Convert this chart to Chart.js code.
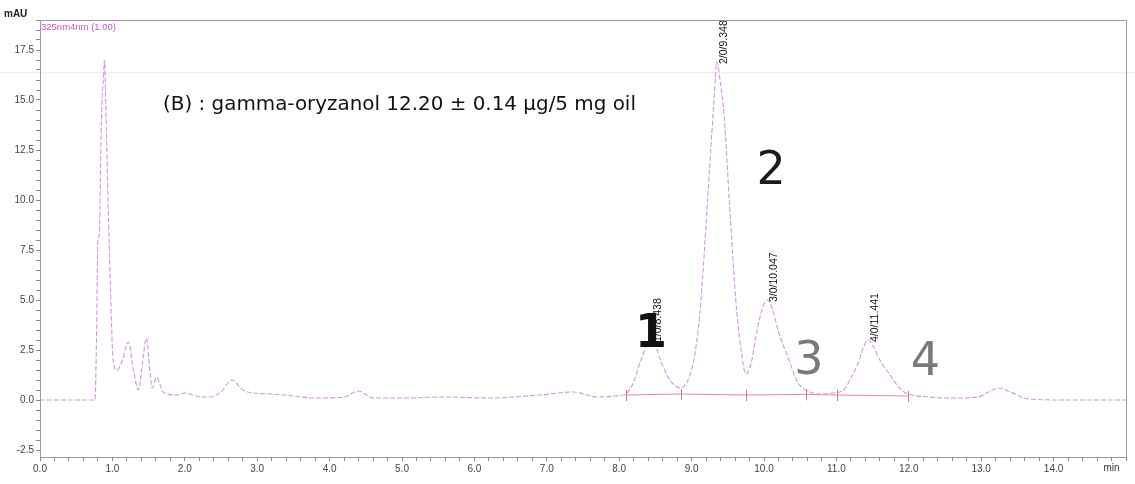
<!DOCTYPE html>
<html>
<head>
<meta charset="utf-8">
<title>gamma-oryzanol HPLC chromatogram (B)</title>
<script src="https://cdn.jsdelivr.net/npm/chart.js@4.4.1/dist/chart.umd.min.js"></script>
<style>
  html, body { margin: 0; padding: 0; background: #ffffff; }
  #wrap { width: 1135px; height: 484px; }
</style>
</head>
<body>
<div id="wrap"><canvas id="chrom" width="1135" height="484"></canvas></div>
<script>
// Detector trace, 325 nm: retention time (min) and absorbance (mAU)
const retentionTime = [
  0, 0.76, 0.78, 0.80, 0.82, 0.84, 0.86, 0.875, 0.89, 0.91,
  0.94, 0.97, 1.01, 1.06, 1.14, 1.22, 1.29, 1.36, 1.42, 1.47,
  1.52, 1.55, 1.61, 1.70, 1.89, 2.0, 2.15, 2.35, 2.5, 2.65,
  2.8, 2.95, 3.2, 3.5, 3.78, 4.2, 4.4, 4.6, 5.0, 5.6,
  6.2, 6.9, 7.37, 7.7, 7.95, 8.09, 8.2, 8.3, 8.38, 8.438,
  8.5, 8.58, 8.68, 8.78, 8.85, 8.95, 9.05, 9.13, 9.22, 9.31,
  9.348, 9.4, 9.45, 9.52, 9.61, 9.68, 9.75, 9.82, 9.9, 9.98,
  10.047, 10.12, 10.2, 10.33, 10.47, 10.58, 10.75, 10.95, 11.1, 11.2,
  11.3, 11.38, 11.441, 11.5, 11.6, 11.76, 11.87, 11.96, 12.27, 12.6,
  12.96, 13.1, 13.24, 13.4, 13.65, 14.2, 15.0
];
const absorbance = [
  0, 0, 3.0, 8.0, 8.3, 12.5, 15.3, 16.0, 17.0, 14.5,
  10.0, 6.0, 2.0, 1.5, 2.0, 2.9, 1.5, 0.5, 2.0, 3.1,
  1.4, 0.6, 1.15, 0.4, 0.25, 0.35, 0.2, 0.15, 0.4, 1.0,
  0.5, 0.35, 0.3, 0.2, 0.1, 0.15, 0.45, 0.1, 0.1, 0.15,
  0.1, 0.25, 0.4, 0.15, 0.2, 0.3, 0.9, 2.0, 2.7, 3.0,
  2.7, 1.9, 1.1, 0.7, 0.6, 1.0, 2.4, 5.0, 10.0, 15.0,
  16.9, 15.8, 14.2, 10.0, 5.0, 2.6, 1.3, 1.8, 3.4, 4.6,
  5.0, 4.5, 3.4, 2.15, 0.85, 0.5, 0.3, 0.35, 0.5, 1.1,
  1.85, 2.7, 3.0, 2.75, 2.0, 1.15, 0.6, 0.35, 0.15, 0.1,
  0.15, 0.4, 0.6, 0.4, 0.05, 0.0, 0.0
];

// Integrated peaks: number / tag / retention time
const peakTimes  = [8.438, 9.348, 10.047, 11.441];
const peakTags   = ['1/0/8.438', '2/0/9.348', '3/0/10.047', '4/0/11.441'];
const peakIds    = ['1', '2', '3', '4'];

// Integration baseline: start/end marks (min) and their level (mAU)
const baselineTimes  = [8.09, 8.85, 9.75, 10.58, 11.01, 11.99];
const baselineLevels = [0.25, 0.3, 0.25, 0.28, 0.25, 0.2];

// Axis ranges, minor tick steps and labelled tick steps
const timeRange = [0, 15];
const mauRange  = [-2.85, 19.0];
const timeMinorStep = 0.2;
const mauMinorStep  = 0.5;
const timeLabelStep = 1.0;
const mauLabelStep  = 2.5;

const titleText  = '(B) : gamma-oryzanol 12.20 \u00b1 0.14 \u00b5g/5 mg oil';
const channelText = '325nm4nm (1.00)';
const unitText = 'mAU';
const timeUnitText = 'min';

const trace = retentionTime.map((t, i) => ({ x: t, y: absorbance[i] }));
const baseline = baselineTimes.map((t, i) => ({ x: t, y: baselineLevels[i] }));

function apexOf(t) {
  const i = retentionTime.indexOf(t);
  return absorbance[i];
}
function onStep(v, step) {
  const r = v / step;
  return Math.abs(r - Math.round(r)) < 1e-6;
}
// tick values on a fixed step inside [lo, hi]
function stepTicks(lo, hi, step) {
  const out = [];
  const first = Math.ceil(lo / step - 1e-9);
  const last = Math.floor(hi / step + 1e-9);
  for (let k = first; k <= last; k++) out.push({ value: +(k * step).toFixed(6) });
  return out;
}

const decorations = {
  id: 'decorations',
  beforeDraw(chart) {
    const c = chart.ctx;
    c.save();
    c.fillStyle = '#ffffff';
    c.fillRect(0, 0, chart.width, chart.height);
    // faint ruling across the sheet
    c.strokeStyle = 'rgba(120,120,120,0.12)';
    c.lineWidth = 1.5;
    c.beginPath();
    c.moveTo(0, 72.5);
    c.lineTo(chart.width, 72.5);
    c.stroke();
    c.restore();
  },
  afterDatasetsDraw(chart) {
    const c = chart.ctx;
    const xs = chart.scales.x, ys = chart.scales.y;

    // integration marks
    c.save();
    c.strokeStyle = 'rgba(220,90,110,0.85)';
    c.lineWidth = 1;
    baselineTimes.forEach((t, i) => {
      const px = Math.round(xs.getPixelForValue(t)) + 0.5;
      const py = ys.getPixelForValue(baselineLevels[i]);
      c.beginPath();
      c.moveTo(px, py - 5);
      c.lineTo(px, py + 6);
      c.stroke();
    });
    c.restore();

    // peak tags, rotated, starting at each apex
    c.save();
    c.fillStyle = '#111111';
    c.font = '10.5px "Liberation Sans", Arial, sans-serif';
    c.textAlign = 'left';
    c.textBaseline = 'middle';
    peakTimes.forEach((t, i) => {
      const px = xs.getPixelForValue(t) + 7;
      const py = ys.getPixelForValue(apexOf(t)) + 2;
      c.save();
      c.translate(px, py);
      c.rotate(-Math.PI / 2);
      c.fillText(peakTags[i], 0, 0);
      c.restore();
    });
    c.restore();

    // large peak numbers
    c.save();
    c.textAlign = 'center';
    c.textBaseline = 'middle';
    const idPos = [[8.44, 3.25], [10.1, 11.4], [10.62, 1.9], [12.23, 1.85]];
    const idColor = ['#111111', '#1a1a1a', '#7a7a7a', '#7a7a7a'];
    const idWeight = ['bold ', '', '', ''];
    peakIds.forEach((s, i) => {
      c.fillStyle = idColor[i];
      c.font = idWeight[i] + '46px "DejaVu Sans", "Liberation Sans", sans-serif';
      c.fillText(s, xs.getPixelForValue(idPos[i][0]), ys.getPixelForValue(idPos[i][1]));
    });
    c.restore();
  },
  afterDraw(chart) {
    const c = chart.ctx;
    const a = chart.chartArea;
    const xs = chart.scales.x;

    // frame of the plot area
    c.save();
    c.strokeStyle = '#9a9aa6';
    c.lineWidth = 1;
    c.strokeRect(Math.round(a.left) + 0.5, Math.round(a.top) + 0.5,
                 Math.round(a.right - a.left), Math.round(a.bottom - a.top));
    c.restore();

    // unit, channel and time-unit texts
    c.save();
    c.fillStyle = '#222222';
    c.font = 'bold 10px "Liberation Sans", Arial, sans-serif';
    c.textAlign = 'left';
    c.textBaseline = 'alphabetic';
    c.fillText(unitText, 4, 17);
    c.fillStyle = '#c455c8';
    c.font = '9.5px "Liberation Sans", Arial, sans-serif';
    c.fillText(channelText, a.left + 1, 30);
    c.fillStyle = '#333333';
    c.font = '10px "Liberation Sans", Arial, sans-serif';
    c.textAlign = 'center';
    c.fillText(timeUnitText, xs.getPixelForValue(14.8), 471);
    c.restore();

    // sample caption
    c.save();
    c.fillStyle = '#111111';
    c.font = '18px "DejaVu Sans", "Open Sans", sans-serif';
    c.textAlign = 'left';
    c.textBaseline = 'middle';
    const w = c.measureText(titleText).width;
    const size = 18 * 473 / w;
    c.font = size.toFixed(2) + 'px "DejaVu Sans", "Open Sans", sans-serif';
    c.fillText(titleText, 163, 105);
    c.restore();
  }
};

new Chart(document.getElementById('chrom'), {
  type: 'line',
  data: {
    datasets: [
      {
        label: 'trace',
        data: trace,
        borderColor: 'rgba(206,140,218,0.9)',
        borderWidth: 1.1,
        borderDash: [5, 2],
        pointRadius: 0,
        fill: false,
        cubicInterpolationMode: 'monotone'
      },
      {
        label: 'baseline',
        data: baseline,
        borderColor: 'rgba(225,110,125,0.8)',
        borderWidth: 1,
        pointRadius: 0,
        fill: false,
        tension: 0
      }
    ]
  },
  options: {
    responsive: false,
    devicePixelRatio: 1,
    animation: false,
    layout: { padding: { top: 20, right: 9, left: 0, bottom: 0 } },
    plugins: { legend: { display: false }, tooltip: { enabled: false } },
    scales: {
      x: {
        type: 'linear',
        min: timeRange[0],
        max: timeRange[1],
        afterFit(s) { s.height = 27; },
        afterBuildTicks(s) { s.ticks = stepTicks(timeRange[0], timeRange[1], timeMinorStep); },
        border: { display: true, color: '#9a9aa6' },
        grid: { drawOnChartArea: false, tickLength: 4, color: '#8a8a8a' },
        ticks: {
          autoSkip: false,
          maxRotation: 0,
          padding: 2,
          color: '#444444',
          font: { family: '"Liberation Sans", Arial, sans-serif', size: 10 },
          callback(v) {
            if (v >= timeRange[1] - 1e-6) return '';
            return onStep(v, timeLabelStep) ? v.toFixed(1) : '';
          }
        }
      },
      y: {
        type: 'linear',
        min: mauRange[0],
        max: mauRange[1],
        afterFit(s) { s.width = 40; },
        afterBuildTicks(s) { s.ticks = stepTicks(mauRange[0], mauRange[1], mauMinorStep); },
        border: { display: true, color: '#9a9aa6' },
        grid: { drawOnChartArea: false, tickLength: 4, color: '#8a8a8a' },
        ticks: {
          autoSkip: false,
          padding: 2,
          color: '#444444',
          font: { family: '"Liberation Sans", Arial, sans-serif', size: 10 },
          callback(v) {
            return onStep(v, mauLabelStep) ? v.toFixed(1) : '';
          }
        }
      }
    }
  },
  plugins: [decorations]
});
</script>
</body>
</html>
